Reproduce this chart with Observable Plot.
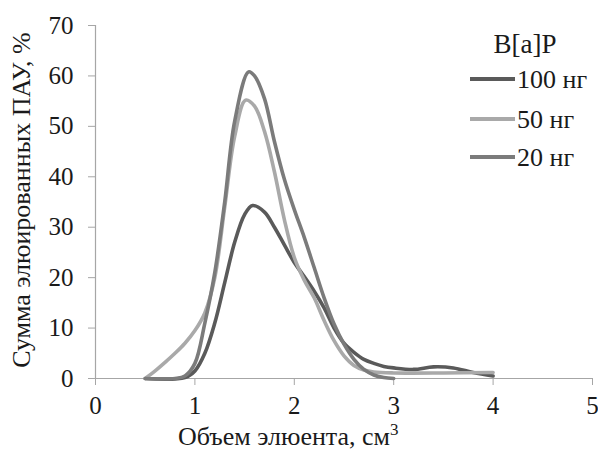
<!DOCTYPE html>
<html>
<head>
<meta charset="utf-8">
<script src="https://cdn.jsdelivr.net/npm/d3@7"></script>
<script src="https://cdn.jsdelivr.net/npm/@observablehq/plot@0.6"></script>
<style>
  html, body { margin: 0; padding: 0; background: #fff; }
  #wrap { position: relative; width: 598px; height: 452px; }
</style>
</head>
<body>
<div id="wrap"></div>
<script>
// Series names and colours
const seriesNames = ["100 нг", "50 нг", "20 нг"];
const seriesColors = ["#5a5a5a", "#a9a9a9", "#7b7b7b"];
const legendTitle = "B[a]P";
const xLabel = "Объем элюента, см";
const xLabelSup = "3";
const yLabel = "Сумма элюированных ПАУ, %";
const xTicks = [0, 1, 2, 3, 4, 5];
const yTicks = [0, 10, 20, 30, 40, 50, 60, 70];

// 100 нг
const x100 = [0.5, 0.9, 1.0, 1.1, 1.2, 1.3, 1.4, 1.5, 1.58, 1.7, 1.8, 1.9, 2.0, 2.1, 2.2, 2.3, 2.4, 2.5, 2.6, 2.7, 2.8, 2.9, 3.0, 3.2, 3.4, 3.6, 3.8, 4.0];
const y100 = [0, 0.2, 1.5, 5, 11, 19, 27, 32.5, 34.3, 33, 30, 26.5, 23, 20.2, 17.3, 14, 10, 7, 5.2, 3.8, 3, 2.4, 2.1, 1.8, 2.3, 2.1, 1.2, 0.5];
// 50 нг
const x50 = [0.5, 0.6, 0.7, 0.8, 0.9, 1.0, 1.1, 1.2, 1.3, 1.4, 1.51, 1.6, 1.7, 1.8, 1.9, 2.0, 2.1, 2.2, 2.3, 2.4, 2.5, 2.6, 2.7, 2.8, 3.0, 3.5, 4.0];
const y50 = [0, 1.5, 3.2, 5, 7, 9.5, 13, 20, 34, 48, 55.2, 54, 49, 41, 31.5, 24, 19.5, 16, 11.5, 7.5, 4.5, 2.6, 1.7, 1.3, 1.1, 1.1, 1.2];
// 20 нг
const x20 = [0.5, 0.8, 0.9, 1.0, 1.1, 1.2, 1.3, 1.4, 1.54, 1.6, 1.7, 1.8, 1.9, 2.0, 2.1, 2.2, 2.3, 2.4, 2.5, 2.6, 2.7, 2.8, 2.9, 3.0];
const y20 = [0, 0, 0.5, 3, 11, 21, 35, 51, 60.8, 60, 55.5, 47, 39.5, 33.5, 28, 22, 16, 10.8, 6.8, 3.8, 1.8, 0.7, 0.2, 0];

const table = [
  ...x100.map((x, i) => ({x, y: y100[i], s: seriesNames[0]})),
  ...x50.map((x, i) => ({x, y: y50[i], s: seriesNames[1]})),
  ...x20.map((x, i) => ({x, y: y20[i], s: seriesNames[2]}))
];

const axisColor = "#a6a6a6";
const textColor = "#1a1a1a";
const serif = "'Liberation Serif', 'Times New Roman', serif";

const chart = Plot.plot({
  width: 598,
  height: 452,
  marginLeft: 95,
  marginRight: 6,
  marginTop: 25,
  marginBottom: 74,
  style: { fontFamily: serif, background: "#fff", color: textColor },
  x: { domain: [0, 5], axis: null },
  y: { domain: [0, 70], axis: null },
  color: { domain: seriesNames, range: seriesColors },
  marks: [
    Plot.ruleX([0], { stroke: axisColor, strokeWidth: 1.2 }),
    Plot.ruleY([0], { stroke: axisColor, strokeWidth: 1.2 }),
    Plot.axisY(yTicks, { ticks: yTicks, tickSize: 7, tickPadding: 15, stroke: axisColor, fill: textColor, fontSize: 25, label: null, tickFormat: d => String(d) }),
    Plot.axisX(xTicks, { ticks: xTicks, tickSize: 7, tickPadding: 11, stroke: axisColor, fill: textColor, fontSize: 25, label: null, tickFormat: d => String(d) }),
    Plot.line(table, { x: "x", y: "y", z: "s", stroke: "s", strokeWidth: 3.6, curve: "catmull-rom" })
  ]
});

document.getElementById("wrap").appendChild(chart);

const svg = d3.select(chart);

// Legend (SVG)
const lg = svg.append("g")
  .style("font-family", serif)
  .style("font-weight", "normal")
  .attr("fill", textColor);
lg.append("text")
  .attr("x", 525).attr("y", 53)
  .style("text-anchor", "middle")
  .attr("font-size", 27)
  .text(legendTitle);
const legendY = [79, 119, 157];
seriesNames.forEach((name, i) => {
  lg.append("line")
    .attr("x1", 470).attr("x2", 515)
    .attr("y1", legendY[i]).attr("y2", legendY[i])
    .attr("stroke", seriesColors[i]).attr("stroke-width", 4);
  lg.append("text")
    .attr("x", 517).attr("y", legendY[i])
    .attr("dy", "0.33em")
    .style("text-anchor", "start")
    .attr("font-size", 26)
    .text(name);
});

// Axis titles
const xt = svg.append("text")
  .attr("x", 178).attr("y", 445)
  .style("text-anchor", "start")
  .style("font-family", serif)
  .attr("font-size", 26).attr("fill", textColor);
xt.append("tspan").text(xLabel);
xt.append("tspan").attr("dy", -10).attr("font-size", 17).text(xLabelSup);

svg.append("text")
  .attr("transform", "translate(30,200) rotate(-90)")
  .style("text-anchor", "middle")
  .style("font-family", serif)
  .attr("font-size", 26).attr("fill", textColor)
  .text(yLabel);
</script>
</body>
</html>
